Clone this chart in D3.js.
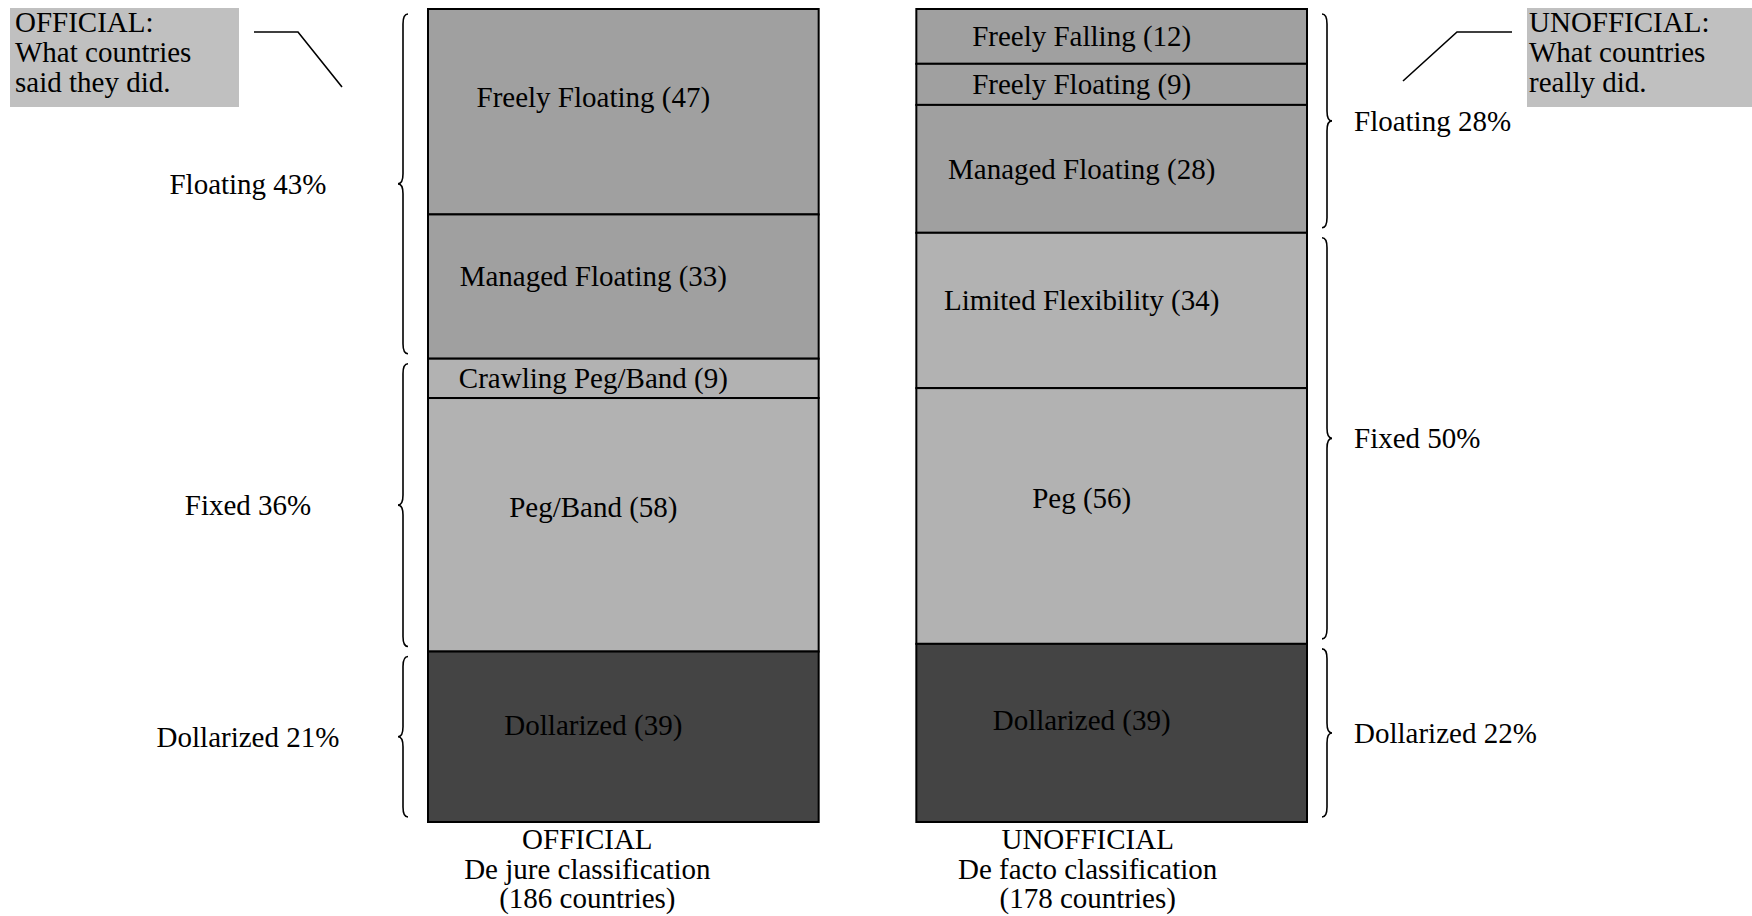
<!doctype html>
<html lang="en">
<head>
    <meta charset="UTF-8">
    <title>Exchange rate regimes</title>
    <script src="https://d3js.org/d3.v7.min.js"></script>
    <style>
        body {
            margin: 0;
            background: white;
        }
        text {
            font-family: "Liberation Serif", "Times New Roman", serif;
            font-size: 29px;
            fill: black;
        }
        .seg {
            stroke: black;
            stroke-width: 2;
        }
        .brace, .leader {
            fill: none;
            stroke: black;
            stroke-width: 1.6;
        }
    </style>
</head>
<body>
<svg id="chart" width="1752" height="916"></svg>
<script>
    // data
    var barKeys = ["official", "unofficial"];
    var barTitles = ["OFFICIAL", "UNOFFICIAL"];
    var barSubtitles = ["De jure classification", "De facto classification"];
    var countryTotals = [186, 178];

    var officialCategories = ["Freely Floating", "Managed Floating", "Crawling Peg/Band", "Peg/Band", "Dollarized"];
    var officialCounts = [47, 33, 9, 58, 39];
    var officialGroups = ["Floating", "Floating", "Fixed", "Fixed", "Dollarized"];

    var unofficialCategories = ["Freely Falling", "Freely Floating", "Managed Floating", "Limited Flexibility", "Peg", "Dollarized"];
    var unofficialCounts = [12, 9, 28, 34, 56, 39];
    var unofficialGroups = ["Floating", "Floating", "Floating", "Fixed", "Fixed", "Dollarized"];

    var groupNames = ["Floating", "Fixed", "Dollarized"];
    var officialGroupPct = [43, 36, 21];
    var unofficialGroupPct = [28, 50, 22];

    var noteLines = [
        ["OFFICIAL:", "What countries", "said they did."],
        ["UNOFFICIAL:", "What countries", "really did."]
    ];

    var yTop = 9, yBottom = 822;
    var svg = d3.select("#chart");

    var x = d3.scaleBand().domain(barKeys).range([428, 1307]).paddingInner(0.2).paddingOuter(0);
    var fill = d3.scaleOrdinal().domain(groupNames).range(["#a0a0a0", "#b2b2b2", "#444444"]);

    function stack(cats, counts, groups, total) {
        var y = d3.scaleLinear().domain([0, total]).range([yTop, yBottom]);
        var acc = 0;
        return cats.map(function (c, i) {
            var s = {name: c, count: counts[i], group: groups[i], y0: y(acc), y1: y(acc + counts[i])};
            acc += counts[i];
            return s;
        });
    }

    var bars = [
        {key: "official", segs: stack(officialCategories, officialCounts, officialGroups, countryTotals[0]), pct: officialGroupPct},
        {key: "unofficial", segs: stack(unofficialCategories, unofficialCounts, unofficialGroups, countryTotals[1]), pct: unofficialGroupPct}
    ];

    // curly brace, tip pointing left (dir = -1) or right (dir = 1)
    function brace(xe, y0, y1, dir) {
        var xm = xe + dir * 5, xt = xe + dir * 10, r = 10, ym = (y0 + y1) / 2;
        return "M" + xe + "," + y0 +
            "Q" + xm + "," + y0 + " " + xm + "," + (y0 + r) +
            "L" + xm + "," + (ym - r) +
            "Q" + xm + "," + ym + " " + xt + "," + ym +
            "Q" + xm + "," + ym + " " + xm + "," + (ym + r) +
            "L" + xm + "," + (y1 - r) +
            "Q" + xm + "," + y1 + " " + xe + "," + y1;
    }

    bars.forEach(function (b, bi) {
        var bx = x(b.key), bw = x.bandwidth(), cx = bx + bw / 2;
        var g = svg.append("g");

        g.selectAll("rect")
            .data(b.segs)
            .enter()
            .append("rect")
            .attr("class", "seg")
            .attr("x", bx)
            .attr("y", function (d) { return d.y0; })
            .attr("width", bw)
            .attr("height", function (d) { return d.y1 - d.y0; })
            .attr("fill", function (d) { return fill(d.group); });

        g.selectAll("text.lbl")
            .data(b.segs)
            .enter()
            .append("text")
            .attr("class", "lbl")
            .attr("text-anchor", "middle")
            .attr("x", cx - 30)
            .attr("y", function (d) {
                var h = d.y1 - d.y0;
                return d.y0 + h * (h > 140 ? 0.43 : 0.5) + 10;
            })
            .text(function (d) { return d.name + " (" + d.count + ")"; });

        // braces + group shares
        var groups = groupNames.map(function (n, gi) {
            var ss = b.segs.filter(function (s) { return s.group === n; });
            return {name: n, pct: b.pct[gi], y0: ss[0].y0, y1: ss[ss.length - 1].y1};
        });
        var left = bi === 0;
        var xe = left ? bx - 20 : bx + bw + 15;

        g.selectAll("path.brace")
            .data(groups)
            .enter()
            .append("path")
            .attr("class", "brace")
            .attr("d", function (d) { return brace(xe, d.y0 + 5, d.y1 - 5, left ? -1 : 1); });

        g.selectAll("text.grp")
            .data(groups)
            .enter()
            .append("text")
            .attr("class", "grp")
            .attr("text-anchor", left ? "middle" : "start")
            .attr("x", left ? 248 : xe + 32)
            .attr("y", function (d) { return (d.y0 + d.y1) / 2 + 10; })
            .text(function (d) { return d.name + " " + d.pct + "%"; });

        // caption under the bar
        var shift = left ? -36 : -24;
        var cap = g.append("text")
            .attr("text-anchor", "middle")
            .attr("x", cx + shift)
            .attr("y", 849);
        [barTitles[bi], barSubtitles[bi], "(" + countryTotals[bi] + " countries)"].forEach(function (t, i) {
            cap.append("tspan")
                .attr("x", cx + shift)
                .attr("dy", i === 0 ? 0 : 29.5)
                .text(t);
        });
    });

    // note boxes with leader lines
    var boxes = [{x: 10, w: 229}, {x: 1527, w: 225}];
    boxes.forEach(function (bx, i) {
        var g = svg.append("g");
        g.append("rect")
            .attr("x", bx.x)
            .attr("y", 8)
            .attr("width", bx.w)
            .attr("height", 99)
            .attr("fill", "#c0c0c0");
        g.selectAll("text")
            .data(noteLines[i])
            .enter()
            .append("text")
            .attr("x", bx.x + (i === 0 ? 5 : 2))
            .attr("y", function (d, j) { return 32 + j * 30; })
            .text(function (d) { return d; });

        var pts = i === 0
            ? [[bx.x + bx.w + 15, 32], [bx.x + bx.w + 59, 32], [bx.x + bx.w + 103, 87]]
            : [[bx.x - 15, 32], [bx.x - 70, 32], [bx.x - 124, 81]];
        g.append("path")
            .attr("class", "leader")
            .attr("d", d3.line()(pts));
    });
</script>
</body>
</html>
